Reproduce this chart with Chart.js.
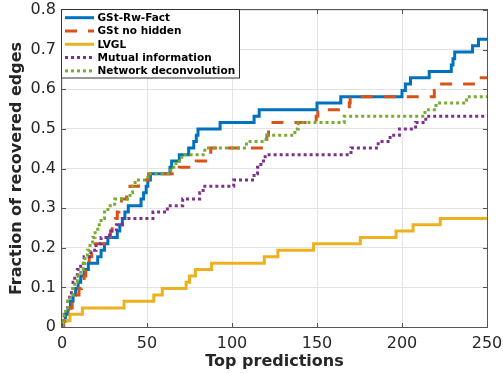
<!DOCTYPE html>
<html>
<head>
<meta charset="utf-8">
<script src="https://cdn.jsdelivr.net/npm/chart.js@4.4.0/dist/chart.umd.min.js"></script>
<style>
  html, body { margin: 0; padding: 0; background: #fff; }
</style>
</head>
<body>
<canvas id="grafico" width="503" height="373"></canvas>
<script>
// eixos
const xTicks = [0, 50, 100, 150, 200, 250];
const yTicks = [0, 0.1, 0.2, 0.3, 0.4, 0.5, 0.6, 0.7, 0.8];
const nomes = ['GSt-Rw-Fact', 'GSt no hidden', 'LVGL', 'Mutual information', 'Network deconvolution'];

// GSt-Rw-Fact (x onde o degrau sobe, nível novo)
const rwFactX = [0, 0.5, 2, 3.5, 5, 6.5, 8, 9.5, 11, 13, 15.5, 21, 23, 25, 27, 32.5, 34, 35.5, 37, 39,
  46.5, 48, 49.5, 50.5, 52, 63.5, 64.5, 69, 74.5, 77.5, 79, 80, 93, 113, 116, 150, 164,
  200, 202, 205, 216, 229, 230, 231, 241.5, 245, 250];
const rwFactY = [0, .016, .032, .048, .065, .081, .097, .113, .129, .145, .161, .177, .194, .210, .226,
  .242, .258, .274, .290, .306, .323, .339, .355, .371, .387, .403, .419, .435, .452, .468, .484,
  .5, .516, .532, .548, .565, .581, .597, .613, .629, .645, .661, .677, .694, .71, .726, .726];

// GSt no hidden
const noHiddenX = [0, 1, 2.5, 4, 6, 8, 10, 11.5, 13, 14, 15, 16, 17.5, 19.5, 27.5, 28.5, 29.5, 31.5,
  32.5, 33.5, 35, 38, 40, 45, 51, 69, 79, 86, 87.5, 119.5, 120.5, 121.5, 122.5, 149.5, 150.5,
  169, 169.5, 219, 220, 242, 250];
const noHiddenY = [0, .016, .032, .048, .065, .081, .097, .113, .129, .145, .161, .177, .194, .210,
  .226, .242, .258, .274, .290, .306, .323, .339, .355, .371, .387, .403, .419, .435, .452,
  .468, .484, .5, .516, .532, .548, .565, .581, .597, .613, .629, .629];

// LVGL
const lvglX = [0, 0.5, 4.7, 12, 36.5, 54, 59, 73, 75, 78.5, 88, 119, 127, 148, 175.5, 196.5, 206.5, 222.5, 250];
const lvglY = [0, .016, .032, .048, .065, .081, .097, .113, .129, .145, .161, .177, .194, .210, .226, .242, .258, .274, .274];

// Mutual information
const mutualX = [0, 0.5, 1.5, 2.5, 3.5, 4.5, 5.5, 6.5, 7.5, 9, 11, 13, 17, 20, 23, 28, 32, 35.5, 53.5,
  62, 71, 81, 83, 101, 113, 115, 117, 119.5, 170, 186, 193, 198.5, 208, 214, 250];
const mutualY = [0, .016, .032, .048, .065, .081, .097, .113, .129, .145, .161, .177, .194, .210, .226,
  .242, .258, .274, .290, .306, .323, .339, .355, .371, .387, .403, .419, .435, .452, .468, .484,
  .5, .516, .532, .532];

// Network deconvolution
const deconvX = [0, 0.3, 1.2, 2.2, 3.5, 5, 6.5, 7.5, 9, 11, 12.5, 13.5, 15, 16.5, 18, 19.5, 21, 23, 25,
  27, 31, 40, 41.5, 43, 50.5, 64, 67, 70.5, 84, 108.5, 120, 137, 139, 166, 213.5, 220, 238, 250];
const deconvY = [0, .016, .032, .048, .065, .081, .097, .113, .129, .145, .161, .177, .194, .210, .226,
  .242, .258, .274, .290, .306, .323, .339, .355, .371, .387, .403, .419, .435, .452, .468, .484,
  .5, .516, .532, .548, .565, .581, .581];

// estilo (cores padrão do MATLAB)
const cores = ['#0072BD', '#D95319', '#EDB120', '#7E2F8E', '#77AC30'];
const tracos = [[], [12, 11], [], [3, 3], [3, 3]];
const fonte = '"DejaVu Sans", sans-serif';

function serie(i, xs, ys) {
  return {
    label: nomes[i],
    data: xs.map((v, k) => ({ x: v, y: ys[k] })),
    borderColor: cores[i],
    backgroundColor: cores[i],
    borderWidth: 3,
    borderDash: tracos[i],
    borderCapStyle: 'butt',
    stepped: 'before',
    pointRadius: 0,
    fill: false,
    order: 4 - i   // o último fica por cima, como no MATLAB
  };
}

// sem folga automática para os rótulos das pontas
function semFolga(s) {
  s.paddingLeft = 0; s.paddingRight = 0; s.paddingTop = 0; s.paddingBottom = 0;
}

// moldura, marcas de escala internas e legenda
const molduraPlugin = {
  id: 'moldura',
  afterDatasetsDraw(chart) {
    const { ctx, chartArea: a, scales: { x, y } } = chart;
    ctx.save();
    ctx.strokeStyle = '#555';
    ctx.lineWidth = 1;
    ctx.setLineDash([]);
    ctx.beginPath();
    xTicks.forEach(v => {
      const px = Math.round(x.getPixelForValue(v)) + 0.5;
      ctx.moveTo(px, a.bottom); ctx.lineTo(px, a.bottom - 4);
      ctx.moveTo(px, a.top); ctx.lineTo(px, a.top + 4);
    });
    yTicks.forEach(v => {
      const py = Math.round(y.getPixelForValue(v)) + 0.5;
      ctx.moveTo(a.left, py); ctx.lineTo(a.left + 4, py);
      ctx.moveTo(a.right, py); ctx.lineTo(a.right - 4, py);
    });
    ctx.stroke();
    ctx.strokeRect(a.left - 0.5, a.top - 0.5, a.right - a.left + 1, a.bottom - a.top + 1);
    ctx.restore();
  },
  afterDraw(chart) {
    const { ctx, chartArea: a } = chart;
    ctx.save();
    const bx = a.left - 0.5, by = a.top - 0.5, bw = 178, bh = 68.5;
    ctx.fillStyle = '#fff';
    ctx.fillRect(bx, by, bw, bh);
    ctx.strokeStyle = '#333';
    ctx.lineWidth = 1;
    ctx.strokeRect(bx, by, bw, bh);
    chart.data.datasets.forEach((ds, i) => {
      const ry = a.top + 7.7 + i * 13.3;
      ctx.strokeStyle = ds.borderColor;
      ctx.lineWidth = 3;
      ctx.lineCap = 'butt';
      ctx.setLineDash(ds.borderDash);
      ctx.beginPath();
      ctx.moveTo(a.left + 3, ry);
      ctx.lineTo(a.left + 32, ry);
      ctx.stroke();
      ctx.setLineDash([]);
      ctx.fillStyle = '#000';
      ctx.font = 'bold 10.5px ' + fonte;
      ctx.textBaseline = 'middle';
      ctx.textAlign = 'left';
      ctx.fillText(ds.label, a.left + 35.5, ry + 0.5);
    });
    ctx.restore();
  }
};

const ctx = document.getElementById('grafico').getContext('2d');
new Chart(ctx, {
  type: 'line',
  data: {
    datasets: [
      serie(0, rwFactX, rwFactY),
      serie(1, noHiddenX, noHiddenY),
      serie(2, lvglX, lvglY),
      serie(3, mutualX, mutualY),
      serie(4, deconvX, deconvY)
    ]
  },
  options: {
    responsive: false,
    animation: false,
    devicePixelRatio: 1,
    layout: { padding: { left: 0, right: 16, top: 10, bottom: 0 } },
    plugins: {
      legend: { display: false },
      tooltip: { enabled: false },
      title: { display: false }
    },
    scales: {
      x: {
        type: 'linear',
        min: 0,
        max: 250,
        afterFit: s => { s.height = 46; semFolga(s); },
        afterBuildTicks: s => { s.ticks = xTicks.map(v => ({ value: v })); },
        grid: { color: '#e3e3e3', drawTicks: false },
        border: { display: false },
        ticks: { font: { family: fonte, size: 16 }, color: '#262626', padding: 7, maxRotation: 0 },
        title: {
          display: true,
          text: 'Top predictions',
          font: { family: fonte, size: 16, weight: 'bold' },
          color: '#262626',
          padding: { top: 0, bottom: 1.5 }
        }
      },
      y: {
        min: 0,
        max: 0.8,
        afterFit: s => { s.width = 62; semFolga(s); },
        afterBuildTicks: s => { s.ticks = yTicks.map(v => ({ value: v })); },
        grid: { color: '#e3e3e3', drawTicks: false },
        border: { display: false },
        ticks: {
          font: { family: fonte, size: 16 },
          color: '#262626',
          padding: 6,
          callback: v => (v === 0 ? '0' : v.toFixed(1))
        },
        title: {
          display: true,
          text: 'Fraction of recovered edges',
          font: { family: fonte, size: 16, weight: 'bold' },
          color: '#262626',
          padding: { top: 7, bottom: 0 }
        }
      }
    }
  },
  plugins: [molduraPlugin]
});
</script>
</body>
</html>
